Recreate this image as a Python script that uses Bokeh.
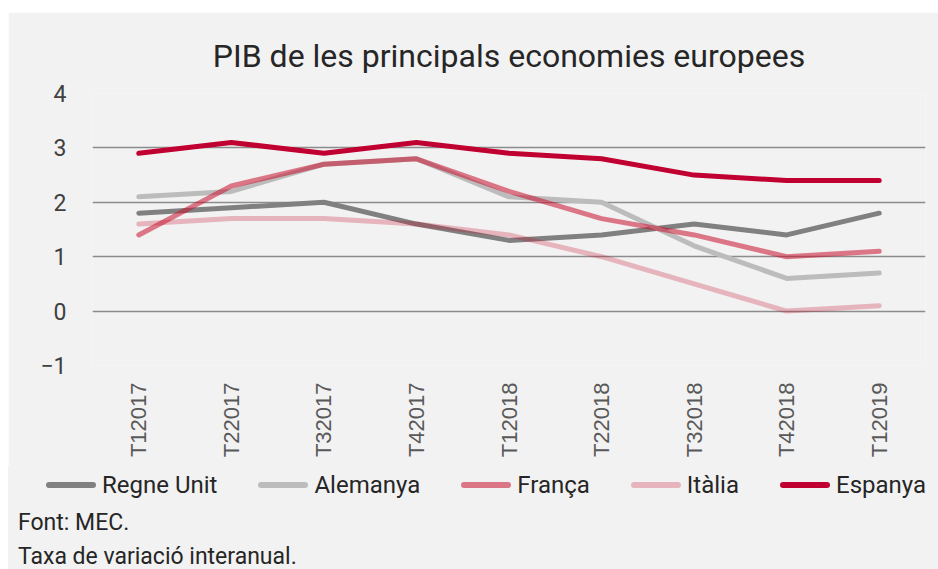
import math
from bokeh.plotting import figure
from bokeh.models import Range1d, Spacer, Div
from bokeh.layouts import column, row
from bokeh.embed import file_html
from bokeh.resources import INLINE

categories = ["T12017", "T22017", "T32017", "T42017", "T12018",
              "T22018", "T32018", "T42018", "T12019"]
regne_unit = [1.8, 1.9, 2.0, 1.6, 1.3, 1.4, 1.6, 1.4, 1.8]
alemanya = [2.1, 2.2, 2.7, 2.8, 2.1, 2.0, 1.2, 0.6, 0.7]
franca = [1.4, 2.3, 2.7, 2.8, 2.2, 1.7, 1.4, 1.0, 1.1]
italia = [1.6, 1.7, 1.7, 1.6, 1.4, 1.0, 0.5, 0.0, 0.1]
espanya = [2.9, 3.1, 2.9, 3.1, 2.9, 2.8, 2.5, 2.4, 2.4]
y_ticks = [-1, 0, 1, 2, 3, 4]
title_text = "PIB de les principals economies europees"
footer_lines = ["Font: MEC.", "Taxa de variació interanual."]

FONT = "Roboto"
BG = "#f2f2f2"
W = 930

series = [
    ("Regne Unit", regne_unit, "#808080", 1.0),
    ("Alemanya", alemanya, "#bcbcbc", 1.0),
    ("França", franca, "#c8102e", 0.55),
    ("Itàlia", italia, "#c8102e", 0.27),
    ("Espanya", espanya, "#c00030", 1.0),
]

# ---- main chart ----
p = figure(x_range=categories, y_range=Range1d(-1, 4), width=W, height=454,
           output_backend="svg", toolbar_location=None,
           background_fill_color=BG, border_fill_color=BG,
           outline_line_color=None,
           min_border_left=84, min_border_right=13, min_border_top=81,
           min_border_bottom=101)

p.title.text = title_text
p.title.align = "center"
p.title.text_font = FONT
p.title.text_font_size = "32px"
p.title.text_font_style = "normal"
p.title.text_color = "#262626"
p.title.standoff = 37

for name, vals, col, a in series:
    p.line(categories, vals, line_color=col, line_alpha=a, line_width=5,
           line_cap="round", line_join="round")

p.yaxis.ticker = y_ticks
p.yaxis.axis_line_color = None
p.yaxis.major_tick_line_color = None
p.yaxis.minor_tick_line_color = None
p.yaxis.major_label_text_font = FONT
p.yaxis.major_label_text_font_size = "23px"
p.yaxis.major_label_text_color = "#404040"
p.yaxis.major_label_standoff = 20

p.xaxis.axis_line_color = None
p.xaxis.major_tick_line_color = None
p.xaxis.minor_tick_line_color = None
p.xaxis.major_label_orientation = math.pi / 2
p.xaxis.major_label_text_font = "Liberation Sans"
p.xaxis.major_label_text_font_size = "22px"
p.xaxis.major_label_text_color = "#595959"
p.xaxis.major_label_standoff = 11

p.xgrid.grid_line_color = None
p.ygrid.grid_line_color = "#8c8c8c"
p.ygrid.grid_line_width = 1.5

# ---- legend + footer strip (HTML) ----
H2 = 103


def rgba(hex_color, alpha):
    h = hex_color.lstrip("#")
    r, g, b = int(h[0:2], 16), int(h[2:4], 16), int(h[4:6], 16)
    return f"rgba({r},{g},{b},{alpha})"


legend_parts = []
for i, (name, vals, col, a) in enumerate(series):
    gap = "0px" if i == 0 else "41px"
    legend_parts.append(
        f'<span style="display:inline-flex;align-items:center;margin-left:{gap}">'
        f'<span style="display:inline-block;width:50px;height:6px;border-radius:3px;'
        f'background:{rgba(col, a)};margin-right:6px"></span>'
        f'<span>{name}</span></span>'
    )

html = (
    f'<div style="position:relative;width:{W}px;height:{H2}px;background:{BG};'
    f'font-family:{FONT},sans-serif;color:#262626;overflow:hidden">'
    f'<div style="position:absolute;left:38px;top:5px;height:28px;line-height:28px;'
    f'font-size:24px;white-space:nowrap;display:flex;align-items:center">'
    + "".join(legend_parts) +
    '</div>'
    f'<div style="position:absolute;left:10px;top:43px;height:28px;line-height:28px;'
    f'font-size:23px;white-space:nowrap">{footer_lines[0]}</div>'
    f'<div style="position:absolute;left:10px;top:77px;height:28px;line-height:28px;'
    f'font-size:23px;white-space:nowrap">{footer_lines[1]}</div>'
    '</div>'
)
div = Div(text=html, width=W, height=H2, margin=(0, 0, 0, 0),
          styles={"background-color": BG})

layout = column(Spacer(width=W, height=12),
                row(Spacer(width=8, height=H2), column(p, div)))
open("out.html", "w").write(file_html(layout, INLINE))
